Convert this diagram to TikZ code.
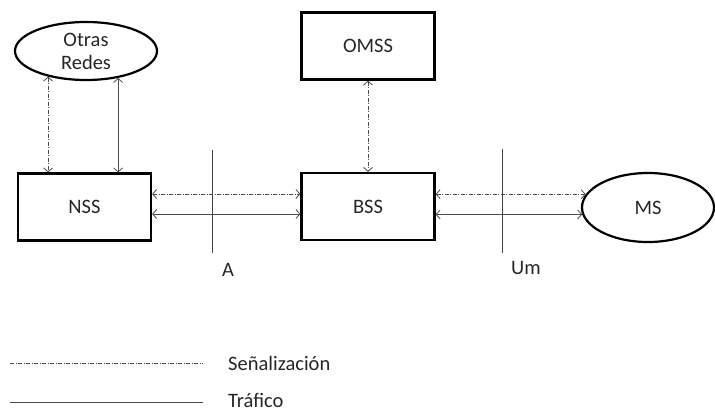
\documentclass[tikz,border=0pt]{standalone}
\usepackage{fontspec}
\setmainfont{Carlito}
\usetikzlibrary{arrows.meta,shapes.geometric}
\begin{document}
\begin{tikzpicture}[x=1pt,y=-1pt,
  font=\fontsize{20.5}{23}\selectfont,
  every node/.style={text=black!85},
  box/.style={draw=black,line width=2.2pt,minimum width=133pt,minimum height=67pt,inner sep=0pt},
  oval/.style={ellipse,draw=black,line width=2.2pt,inner sep=0pt,align=center},
  link/.style={draw=black!70,line width=0.8pt,{Straight Barb[length=4pt,width=9pt]}-{Straight Barb[length=4pt,width=9pt]}},
  signal/.style={dash pattern=on 4pt off 1.5pt on 1pt off 1.5pt},
  iface/.style={draw=black!75,line width=1pt},
  legendline/.style={draw=black!70,line width=0.9pt},
  legendtext/.style={anchor=base west,inner sep=0pt}]
\useasboundingbox (0,0) rectangle (715,412);

% network elements
\node[oval,minimum width=142pt,minimum height=58pt] (ore) at (86,51) {Otras\\Redes};
\node[box] (nss) at (84.5,207) {NSS};
\node[box] (omss) at (368,46) {OMSS};
\node[box] (bss) at (368,206.5) {BSS};
\node[oval,minimum width=132pt,minimum height=69pt] (ms) at (648,207.5) {MS};

% NSS <-> other networks
\draw[link,signal] (ore.214.8) -- (ore.214.8 |- nss.north);
\draw[link] (ore.320) -- (ore.320 |- nss.north);

% OMSS <-> BSS
\draw[link,signal] (omss.south) -- (bss.north);

% NSS <-> BSS (interface A)
\draw[link,signal] ([yshift=13pt]nss.east) -- ([yshift=13pt]nss.east -| bss.west);
\draw[link] ([yshift=-7pt]nss.east) -- ([yshift=-7pt]nss.east -| bss.west);

% BSS <-> MS (interface Um)
\draw[link,signal] (ms.168 -| bss.east) -- (ms.168);
\draw[link] (ms.186 -| bss.east) -- (ms.186);

% interfaces
\draw[iface] (212,150) -- (212,253);
\node (la) at (228,270) {A};
\draw[iface] (502,149) -- (502,253);
\node (lum) at (526,268) {Um};

% legend
\coordinate (s1) at (10,363);
\coordinate (s2) at (203,363);
\draw[legendline,signal] (s1) -- (s2);
\node[legendtext] (ls) at (228,370.5) {Señalización};
\coordinate (t1) at (10,402);
\coordinate (t2) at (203,402);
\draw[legendline] (t1) -- (t2);
\node[legendtext] (lt) at (228,407) {Tráfico};
\end{tikzpicture}
\end{document}
